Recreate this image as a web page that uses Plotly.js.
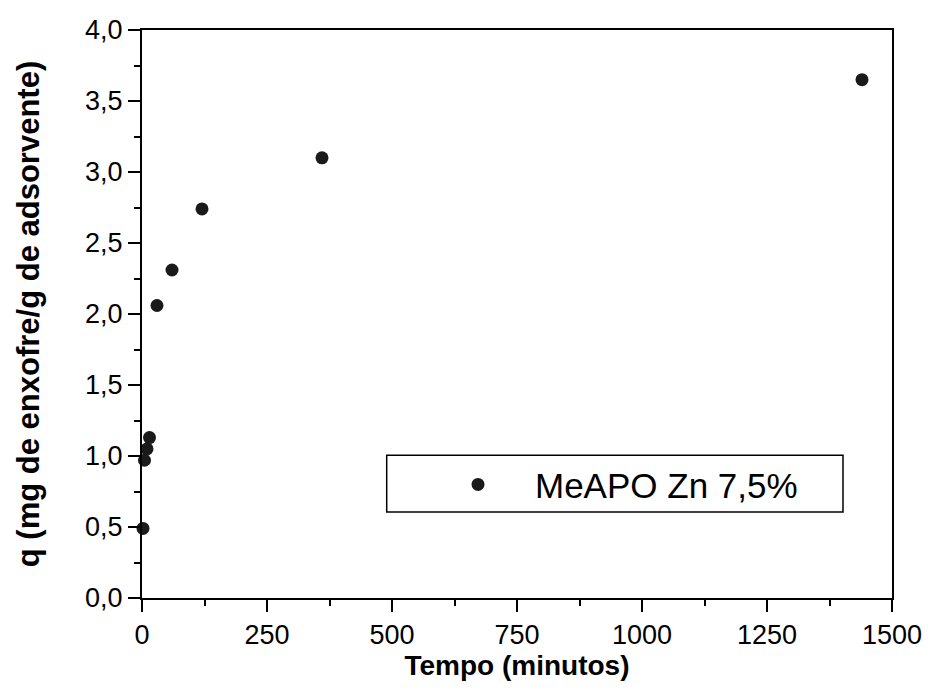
<!DOCTYPE html>
<html>
<head>
<meta charset="utf-8">
<script src="https://cdn.plot.ly/plotly-3.0.1.min.js"></script>
<style>html,body{margin:0;padding:0;background:#fff;}#chart{width:931px;height:697px;}</style>
</head>
<body>
<div id="chart"></div>
<script>
const seriesName = 'MeAPO Zn 7,5%';
const tempo = [2, 5, 10, 15, 30, 60, 120, 360, 1440];
const q = [0.49, 0.97, 1.05, 1.13, 2.06, 2.31, 2.74, 3.10, 3.65];
const xTitle = 'Tempo (minutos)';
const yTitle = 'q (mg de enxofre/g de adsorvente)';

const FONT = '"Liberation Sans", Arial, sans-serif';

const trace = {
  x: tempo, y: q, type: 'scatter', mode: 'markers', name: seriesName,
  marker: {size: 13, color: '#1a1a1a', symbol: 'circle'},
  cliponaxis: false
};

const layout = {
  width: 931, height: 697,
  margin: {l: 142, r: 39, t: 30, b: 99},
  paper_bgcolor: '#fff', plot_bgcolor: '#fff',
  separators: ',.',
  font: {family: FONT, color: '#000', size: 27},
  showlegend: true,
  legend: {
    x: 0.372, y: 0.2514, xanchor: 'left', yanchor: 'top',
    bgcolor: 'rgba(0,0,0,0)', borderwidth: 0,
    font: {family: FONT, size: 35, color: '#000'},
    itemwidth: 104
  },
  shapes: [{
    type: 'rect', xref: 'paper', yref: 'paper',
    x0: (386.7-142)/750, x1: (843-142)/750,
    y0: (597.7-511.7)/567.7, y1: (597.7-455)/567.7,
    line: {color: '#000', width: 1.5}, fillcolor: 'rgba(0,0,0,0)'
  }],
  xaxis: {
    range: [0, 1500], dtick: 250, tick0: 0,
    showgrid: false, zeroline: false,
    showline: true, linecolor: '#000', linewidth: 2, mirror: true,
    ticks: 'outside', ticklen: 12, tickwidth: 2, tickcolor: '#000',
    minor: {dtick: 125, ticks: 'outside', ticklen: 6, tickwidth: 2, tickcolor: '#000'},
    tickfont: {family: FONT, size: 27, color: '#000'},
    title: {text: '<b>' + xTitle + '</b>', font: {family: FONT, size: 28, color: '#000'}, standoff: 1}
  },
  yaxis: {
    range: [0, 4], dtick: 0.5, tick0: 0, tickformat: '.1f',
    showgrid: false, zeroline: false,
    showline: true, linecolor: '#000', linewidth: 2, mirror: true,
    ticks: 'outside', ticklen: 12, tickwidth: 2, tickcolor: '#000',
    minor: {dtick: 0.25, ticks: 'outside', ticklen: 6, tickwidth: 2, tickcolor: '#000'},
    tickfont: {family: FONT, size: 27, color: '#000'},
    title: {text: '<b>' + yTitle + '</b>', font: {family: FONT, size: 31, color: '#000'}, standoff: 36}
  }
};

Plotly.newPlot('chart', [trace], layout, {displayModeBar: false, staticPlot: true});
</script>
</body>
</html>
